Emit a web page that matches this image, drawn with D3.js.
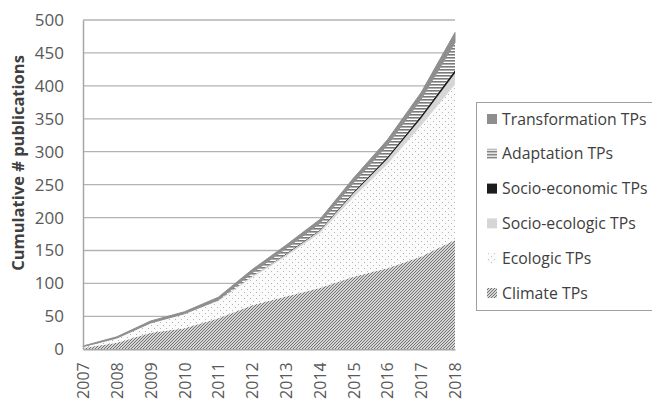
<!DOCTYPE html>
<html>
<head>
<meta charset="utf-8">
<script src="https://cdn.jsdelivr.net/npm/d3@7"></script>
<style>
  body { margin: 0; background: #fff; }
  text { font-family: "Open Sans", sans-serif; }
</style>
</head>
<body>
<div id="chart"></div>
<script>
// data (layer thickness per year, cumulative)
var years = ["2007","2008","2009","2010","2011","2012","2013","2014","2015","2016","2017","2018"];
var climate        = [2, 10, 25, 32, 47, 67, 80, 93, 110, 123, 141, 166];
var ecologic       = [2, 7, 15, 22, 26, 42, 61, 83, 121, 158, 199, 236];
var socioEcologic  = [0, 0, 0, 0, 1, 2, 3, 4, 6, 8, 11, 17];
var socioEconomic  = [0, 0, 0, 0, 0, 0, 1, 1, 2, 3, 4, 5];
var adaptation     = [0, 0, 0, 0, 1, 5, 8, 10, 14, 18, 25, 42];
var transformation = [1, 2, 3, 3, 4, 5, 5, 6, 7, 8, 10, 15];
var yTicks = [0, 50, 100, 150, 200, 250, 300, 350, 400, 450, 500];

var keys = ["climate","ecologic","socioEcologic","socioEconomic","adaptation","transformation"];
var names = {
    climate: "Climate TPs",
    ecologic: "Ecologic TPs",
    socioEcologic: "Socio-ecologic TPs",
    socioEconomic: "Socio-economic TPs",
    adaptation: "Adaptation TPs",
    transformation: "Transformation TPs"
};
var fills = {
    climate: "url(#pClimate)",
    ecologic: "url(#pEco)",
    socioEcologic: "#d6d6d6",
    socioEconomic: "#1c1c1c",
    adaptation: "url(#pAdapt)",
    transformation: "#8e8e8e"
};

var table = years.map(function(y, i){
    return {
        year: y,
        climate: climate[i],
        ecologic: ecologic[i],
        socioEcologic: socioEcologic[i],
        socioEconomic: socioEconomic[i],
        adaptation: adaptation[i],
        transformation: transformation[i]
    };
});

var svgWidth = 652;
var svgHeight = 401;
var margin = {top: 20, left: 83, right: 197, bottom: 52};

var svg = d3.select("#chart")
    .append("svg")
    .attr("width", svgWidth)
    .attr("height", svgHeight);

// patterns
var defs = svg.append("defs");
var pc = defs.append("pattern").attr("id", "pClimate")
    .attr("patternUnits", "userSpaceOnUse").attr("width", 3).attr("height", 3);
pc.append("rect").attr("width", 3).attr("height", 3).attr("fill", "#d4d4d4");
pc.append("path").attr("d", "M-1,1 l2,-2 M0,3 l3,-3 M2,4 l2,-2")
    .attr("stroke", "#747474").attr("stroke-width", 1);

var pe = defs.append("pattern").attr("id", "pEco")
    .attr("patternUnits", "userSpaceOnUse").attr("width", 6).attr("height", 6);
pe.append("rect").attr("width", 6).attr("height", 6).attr("fill", "#fbfbfb");
pe.append("rect").attr("x", 1).attr("y", 1).attr("width", 1).attr("height", 1).attr("fill", "#b4b4b4");
pe.append("rect").attr("x", 4).attr("y", 4).attr("width", 1).attr("height", 1).attr("fill", "#b4b4b4");

var pa = defs.append("pattern").attr("id", "pAdapt")
    .attr("patternUnits", "userSpaceOnUse").attr("width", 4).attr("height", 3);
pa.append("rect").attr("width", 4).attr("height", 3).attr("fill", "#ffffff");
pa.append("rect").attr("width", 4).attr("height", 1.6).attr("fill", "#7a7a7a");

var x = d3.scalePoint().domain(years).range([margin.left, 455]);
var y = d3.scaleLinear().domain([0, 500]).range([svgHeight - margin.bottom + 0.3, margin.top]);

// gridlines
svg.append("g")
    .selectAll("line")
    .data(yTicks.slice(1))
    .enter()
    .append("line")
    .attr("x1", x.range()[0])
    .attr("x2", x.range()[1])
    .attr("y1", function(d){ return y(d); })
    .attr("y2", function(d){ return y(d); })
    .attr("stroke", "#b3b3b3")
    .attr("stroke-width", 1.3);

var stack = d3.stack().keys(keys);
var series = stack(table);

var area = d3.area()
    .x(function(d){ return x(d.data.year); })
    .y0(function(d){ return y(d[0]); })
    .y1(function(d){ return y(d[1]); });

svg.append("g")
    .selectAll("path")
    .data(series)
    .enter()
    .append("path")
    .attr("d", area)
    .attr("fill", function(d){ return fills[d.key]; })
    .attr("stroke", function(d){ return d.key == "transformation" ? "#8e8e8e" : "none"; })
    .attr("stroke-width", 1);

// axes
var bottomAxis = d3.axisBottom(x).tickSize(0).tickPadding(8);
var leftAxis = d3.axisLeft(y).tickValues(yTicks).tickSize(0).tickPadding(19);

var gx = svg.append("g")
    .attr("transform", "translate(0," + y(0) + ")")
    .call(bottomAxis);
gx.select(".domain").attr("stroke", "#a6a6a6").attr("stroke-width", 1.5);
gx.selectAll("text")
    .attr("transform", "rotate(-90)")
    .attr("x", -13)
    .attr("y", 0)
    .attr("dy", "0.35em")
    .style("text-anchor", "end")
    .style("font-size", "16px")
    .attr("fill", "#595959");

var gy = svg.append("g")
    .attr("transform", "translate(" + margin.left + ",0)")
    .call(leftAxis);
gy.select(".domain").attr("stroke", "#a6a6a6").attr("stroke-width", 1.5);
gy.selectAll("text")
    .style("font-size", "17px")
    .attr("fill", "#595959");

svg.append("text")
    .attr("transform", "translate(24," + 163 + ") rotate(-90)")
    .style("text-anchor", "middle")
    .style("font-size", "16.5px")
    .style("font-weight", "bold")
    .attr("fill", "#404040")
    .text("Cumulative # publications");

// legend
var legend = svg.append("g");
legend.append("rect")
    .attr("x", 476.5)
    .attr("y", 102.5)
    .attr("width", 200)
    .attr("height", 208)
    .attr("fill", "#fff")
    .attr("stroke", "#a0a0a0")
    .attr("stroke-width", 1);

var legendKeys = keys.slice().reverse();
var item = legend.selectAll("g.item")
    .data(legendKeys)
    .enter()
    .append("g")
    .attr("class", "item")
    .attr("transform", function(d, i){ return "translate(487," + (119 + i * 34.8) + ")"; });
item.append("rect")
    .attr("x", 0)
    .attr("y", -5)
    .attr("width", 10)
    .attr("height", 10)
    .attr("fill", function(d){ return fills[d]; });
item.append("text")
    .attr("x", 15)
    .attr("y", 0)
    .attr("dy", "0.35em")
    .style("font-size", "15.8px")
    .attr("fill", "#404040")
    .text(function(d){ return names[d]; });
</script>
</body>
</html>
